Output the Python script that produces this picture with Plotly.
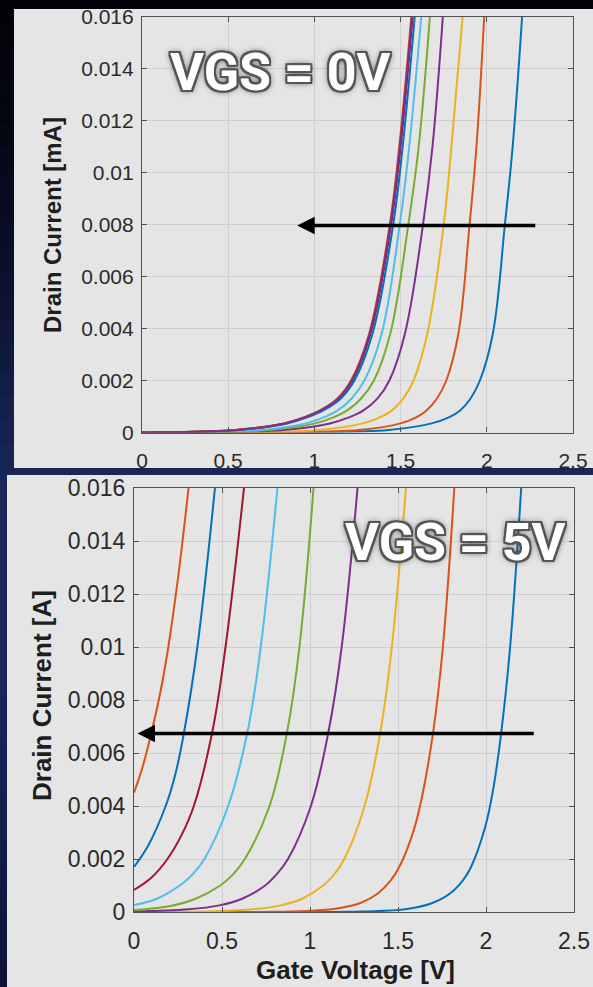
import plotly.graph_objects as go

W, H = 593, 987

# ---------------- colours (MATLAB default order) ----------------
BLUE, ORANGE, YELLOW, PURPLE = "#0072BD", "#D95319", "#EDB120", "#7E2F8E"
GREEN, CYAN, DARKRED = "#77AC30", "#4DBEEE", "#A2142F"

# ---------------- top panel data (VGS = 0V) ----------------
# every top curve is read at the same current levels
top_i = [0.0, 0.00001, 0.0001, 0.00035, 0.00058, 0.00085, 0.0013, 0.002, 0.0038, 0.008, 0.011, 0.016]
top_1_v = [0.0, 1.00, 1.43, 1.68, 1.78, 1.845, 1.905, 1.96, 2.035, 2.105, 2.15, 2.205]
top_2_v = [0.0, 0.80, 1.26, 1.50, 1.59, 1.65, 1.71, 1.765, 1.835, 1.90, 1.94, 1.985]
top_3_v = [0.0, 0.62, 1.03, 1.28, 1.38, 1.45, 1.515, 1.575, 1.655, 1.75, 1.795, 1.86]
top_4_v = [0.0, 0.36, 0.82, 1.09, 1.20, 1.285, 1.365, 1.435, 1.525, 1.63, 1.685, 1.745]
top_5_v = [0.0, 0.28, 0.74, 1.005, 1.11, 1.19, 1.27, 1.345, 1.44, 1.545, 1.605, 1.67]
top_6_v = [0.0, 0.22, 0.69, 0.95, 1.055, 1.135, 1.215, 1.29, 1.39, 1.495, 1.55, 1.62]
top_7_v = [0.0, 0.10, 0.55, 0.83, 0.945, 1.04, 1.14, 1.22, 1.325, 1.445, 1.50, 1.57]
top_8_v = [0.0, 0.11, 0.56, 0.842, 0.957, 1.052, 1.152, 1.232, 1.337, 1.457, 1.512, 1.582]
top_9_v = [0.0, 0.09, 0.54, 0.822, 0.937, 1.032, 1.132, 1.212, 1.317, 1.437, 1.492, 1.562]
top_10_v = [0.0, 0.10, 0.545, 0.826, 0.941, 1.036, 1.136, 1.216, 1.321, 1.441, 1.496, 1.566]

# ---------------- bottom panel data (VGS = 5V) ----------------
bot_1_v = [0.0, 1.30, 1.54, 1.68, 1.755, 1.815, 1.87, 1.915, 1.995, 2.04, 2.087, 2.137, 2.20]
bot_1_i = [0.0, 0.00002, 0.0001, 0.0003, 0.00052, 0.0008, 0.0012, 0.0017, 0.0032, 0.0046, 0.0068, 0.010, 0.016]
bot_2_v = [0.0, 0.80, 1.02, 1.17, 1.29, 1.385, 1.46, 1.515, 1.59, 1.635, 1.70, 1.755, 1.82]
bot_2_i = [0.0, 0.00001, 0.00005, 0.00015, 0.00035, 0.0007, 0.0012, 0.0018, 0.0031, 0.0043, 0.0068, 0.010, 0.016]
bot_3_v = [0.0, 0.46, 0.69, 0.84, 0.955, 1.075, 1.135, 1.195, 1.31, 1.40, 1.465, 1.545]
bot_3_i = [0.0, 0.00003, 0.00011, 0.00026, 0.0005, 0.001, 0.0014, 0.002, 0.004, 0.0068, 0.010, 0.016]
bot_4_v = [0.0, 0.31, 0.485, 0.615, 0.745, 0.807, 0.875, 1.005, 1.105, 1.18, 1.27]
bot_4_i = [0.000019, 0.0001, 0.00025, 0.0005, 0.001, 0.0014, 0.002, 0.004, 0.0068, 0.010, 0.016]
bot_5_v = [0.0, 0.20, 0.35, 0.49, 0.56, 0.63, 0.77, 0.87, 0.94, 1.02]
bot_5_i = [0.00008, 0.00022, 0.0005, 0.001, 0.0014, 0.002, 0.004, 0.0068, 0.010, 0.016]
bot_6_v = [0.0, 0.13, 0.26, 0.33, 0.40, 0.535, 0.645, 0.72, 0.815]
bot_6_i = [0.00026, 0.0005, 0.001, 0.0014, 0.002, 0.004, 0.0068, 0.010, 0.016]
bot_7_v = [0.0, 0.10, 0.19, 0.27, 0.34, 0.445, 0.52, 0.625]
bot_7_i = [0.00083, 0.0013, 0.002, 0.0029, 0.004, 0.0068, 0.010, 0.016]
bot_8_v = [0.0, 0.08, 0.18, 0.235, 0.285, 0.36, 0.46]
bot_8_i = [0.0017, 0.0025, 0.004, 0.0052, 0.0068, 0.010, 0.016]
bot_9_v = [0.0, 0.05, 0.10, 0.15, 0.195, 0.25, 0.31]
bot_9_i = [0.0045, 0.0055, 0.0068, 0.0083, 0.010, 0.0126, 0.016]

# ---------------- axes ticks ----------------
x_ticks = [0, 0.5, 1, 1.5, 2, 2.5]
x_tick_text = ["0", "0.5", "1", "1.5", "2", "2.5"]
y_ticks = [0, 0.002, 0.004, 0.006, 0.008, 0.010, 0.012, 0.014, 0.016]
y_tick_text = ["0", "0.002", "0.004", "0.006", "0.008", "0.01", "0.012", "0.014", "0.016"]

# arrows (data coords): tail -> tip
top_arrow = dict(tail_v=2.29, tip_v=0.90, i=0.00796)
bot_arrow = dict(tail_v=2.28, tip_v=0.02, i=0.00674)

top_series = [
    (top_1_v, top_i, BLUE), (top_2_v, top_i, ORANGE), (top_3_v, top_i, YELLOW),
    (top_4_v, top_i, PURPLE), (top_5_v, top_i, GREEN), (top_6_v, top_i, CYAN),
    (top_7_v, top_i, DARKRED), (top_8_v, top_i, BLUE),
    (top_9_v, top_i, ORANGE), (top_10_v, top_i, PURPLE),
]
bot_series = [
    (bot_1_v, bot_1_i, BLUE), (bot_2_v, bot_2_i, ORANGE), (bot_3_v, bot_3_i, YELLOW),
    (bot_4_v, bot_4_i, PURPLE), (bot_5_v, bot_5_i, GREEN), (bot_6_v, bot_6_i, CYAN),
    (bot_7_v, bot_7_i, DARKRED), (bot_8_v, bot_8_i, BLUE), (bot_9_v, bot_9_i, ORANGE),
]


def px_x(p):
    return p / W


def px_y(p):
    return 1 - p / H


fig = go.Figure()
for v, i, c in top_series:
    fig.add_trace(go.Scatter(x=v, y=i, mode="lines", xaxis="x", yaxis="y",
                             line=dict(color=c, width=2, shape="spline", smoothing=1.1),
                             showlegend=False, hoverinfo="skip"))
for v, i, c in bot_series:
    fig.add_trace(go.Scatter(x=v, y=i, mode="lines", xaxis="x2", yaxis="y2",
                             line=dict(color=c, width=2, shape="spline", smoothing=1.1),
                             showlegend=False, hoverinfo="skip"))


def axis_style(size, standoff, is_x):
    return dict(range=[0, 2.5] if is_x else [0, 0.016],
                tickvals=x_ticks if is_x else y_ticks,
                ticktext=x_tick_text if is_x else y_tick_text,
                showgrid=True, gridcolor="#cfcfcf", gridwidth=1, zeroline=False,
                showline=True, mirror="ticks", linecolor="#505050", linewidth=1.2,
                ticks="inside", ticklen=5, tickcolor="#505050",
                tickfont=dict(family="Liberation Sans, Arial, sans-serif", size=size,
                              color="#2a2a2a"),
                ticklabelstandoff=standoff, automargin=False)


fig.update_layout(
    width=W, height=H, margin=dict(l=0, r=0, t=0, b=0, pad=0, autoexpand=False),
    paper_bgcolor="#111a40", plot_bgcolor="#e5e5e5",
    xaxis=dict(domain=[px_x(142), px_x(573)], anchor="y", **axis_style(21, 9, True)),
    yaxis=dict(domain=[px_y(432.5), px_y(16.5)], anchor="x", **axis_style(21, 3, False)),
    xaxis2=dict(domain=[px_x(134), px_x(574)], anchor="y2", **axis_style(23, 8, True)),
    yaxis2=dict(domain=[px_y(912), px_y(488)], anchor="x2", **axis_style(23, 3, False)),
)

# background gradient bands
stops = [(0, (2, 3, 8)), (120, (4, 6, 18)), (300, (12, 20, 52)), (470, (26, 38, 88)),
         (700, (24, 38, 92)), (987, (12, 20, 56))]
shapes = []
nb = 40
for k in range(nb):
    y0 = H * k / nb
    y1 = H * (k + 1) / nb
    ym = (y0 + y1) / 2
    for (a, ca), (b, cb) in zip(stops[:-1], stops[1:]):
        if a <= ym <= b:
            t = (ym - a) / (b - a)
            col = tuple(int(ca[j] + (cb[j] - ca[j]) * t) for j in range(3))
            break
    shapes.append(dict(type="rect", xref="paper", yref="paper", x0=0, x1=1,
                       y0=px_y(y1 + 0.5), y1=px_y(y0), line=dict(width=0),
                       fillcolor="rgb(%d,%d,%d)" % col, layer="below"))
# light gray panels
shapes.append(dict(type="rect", xref="paper", yref="paper", x0=px_x(14), x1=1,
                   y0=px_y(468), y1=px_y(9), line=dict(width=0), fillcolor="#e5e5e5",
                   layer="below"))
shapes.append(dict(type="rect", xref="paper", yref="paper", x0=px_x(7), x1=1,
                   y0=0, y1=px_y(475), line=dict(width=0), fillcolor="#e5e5e5",
                   layer="below"))
fig.update_layout(shapes=shapes)

TOPLABEL = dict(family="Liberation Sans, Arial, sans-serif", size=24, color="#1e1e1e")
BOTLABEL = dict(family="Liberation Sans, Arial, sans-serif", size=26, color="#1e1e1e")
SHADOW = ("-2px -2px 0 #555, 2px -2px 0 #555, -2px 2px 0 #555, 2px 2px 0 #555, "
          "0 -2px 0 #555, 0 2px 0 #555, -2px 0 0 #555, 2px 0 0 #555, 0 0 7px #222")
BIGFONT = dict(family="Roboto, sans-serif", size=52, color="white", shadow=SHADOW)

ann = [
    dict(text="<b>Drain Current [mA]</b>", xref="paper", yref="paper", x=px_x(52), y=px_y(225),
         textangle=-90, showarrow=False, font=TOPLABEL, xanchor="center", yanchor="middle"),
    dict(text="<b>Drain Current [A]</b>", xref="paper", yref="paper", x=px_x(42), y=px_y(696),
         textangle=-90, showarrow=False, font=BOTLABEL, xanchor="center", yanchor="middle"),
    dict(text="<b>Gate Voltage [V]</b>", xref="paper", yref="paper", x=px_x(355), y=px_y(970),
         showarrow=False, font=BOTLABEL, xanchor="center", yanchor="middle"),
    dict(text="<b>VGS = 0V</b>", xref="paper", yref="paper", x=px_x(280), y=px_y(73),
         showarrow=False, font=BIGFONT, xanchor="center", yanchor="middle"),
    dict(text="<b>VGS = 5V</b>", xref="paper", yref="paper", x=px_x(455), y=px_y(542),
         showarrow=False, font=BIGFONT, xanchor="center", yanchor="middle"),
    dict(text="", x=top_arrow["tip_v"], y=top_arrow["i"], xref="x", yref="y",
         ax=top_arrow["tail_v"], ay=top_arrow["i"], axref="x", ayref="y", showarrow=True,
         arrowhead=2, arrowsize=1.0, arrowwidth=3.5, arrowcolor="black", standoff=0),
    dict(text="", x=bot_arrow["tip_v"], y=bot_arrow["i"], xref="x2", yref="y2",
         ax=bot_arrow["tail_v"], ay=bot_arrow["i"], axref="x2", ayref="y2", showarrow=True,
         arrowhead=2, arrowsize=1.0, arrowwidth=3.5, arrowcolor="black", standoff=0),
]
fig.update_layout(annotations=ann)

fig.write_html("out.html")
